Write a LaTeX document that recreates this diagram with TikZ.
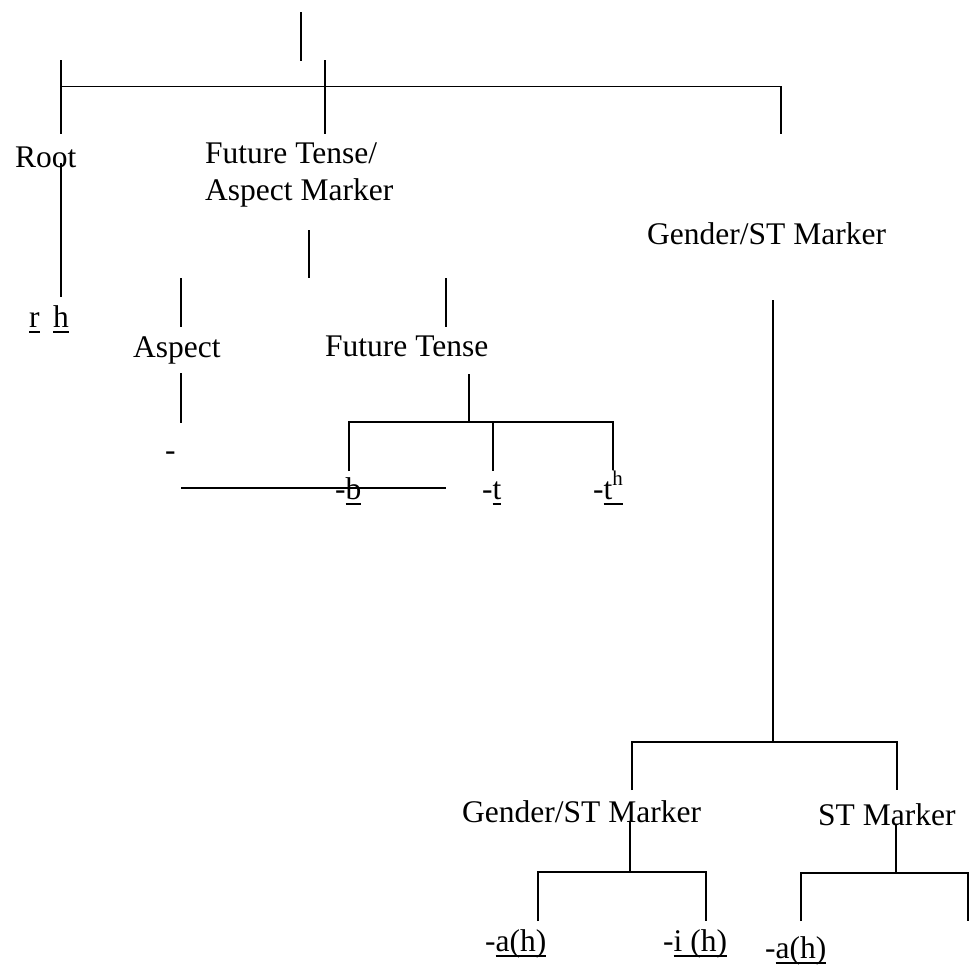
\documentclass[tikz,border=0pt]{standalone}
\usepackage{fontspec}
\setmainfont{Liberation Serif}
\newcommand\ulin[1]{\setbox0=\hbox{#1}\rlap{\rule[-0.19em]{\wd0}{0.065em}}\box0}
\begin{document}
\begin{tikzpicture}[x=1pt,y=-1pt,
  lbl/.style={anchor=base west, inner sep=0pt, font=\fontsize{31.5}{37}\selectfont},
  ln/.style={line width=1.7pt, line cap=butt}]
\useasboundingbox (0,0) rectangle (969,967);
% texts
\node[lbl] (root) at (15,167) {Root};
\node[lbl] (ft1) at (205,163) {Future Tense/};
\node[lbl] (ft2) at (205,200) {Aspect Marker};
\node[lbl] (gst) at (647,244) {Gender/ST Marker};
\node[lbl] (r) at (29,327) {\ulin{r}};
\node[lbl] (h) at (53,327) {\ulin{h}};
\node[lbl] (asp) at (133,357) {Aspect};
\node[lbl] (fut) at (325,356) {Future Tense};
\node[lbl] (dash) at (165,460) {-};
\node[lbl] (b) at (335,499) {-\ulin{b}};
\node[lbl] (t) at (482,499) {-\ulin{t}};
\node[lbl] (th) at (593,499) {-\ulin{t\raisebox{0.42em}{\fontsize{21}{21}\selectfont h}}};
\node[lbl] (gst2) at (462,822) {Gender/ST Marker};
\node[lbl] (st) at (818,825) {ST Marker};
\node[lbl] (ah1) at (485,951) {-\ulin{a(h)}};
\node[lbl] (ih) at (663,951) {-\ulin{i (h)}};
\node[lbl] (ah2) at (765,958) {-\ulin{a(h)}};
% lines
\draw[ln] (301,12) -- (301,61);
\draw[ln] (61,86.5) -- (781,86.5) -- (781,134);
\draw[ln] (61,60) -- (61,134);
\draw[ln] (325,60) -- (325,134);
\draw[ln] (61,163) -- (61,297);
\draw[ln] (309,230) -- (309,278);
\draw[ln] (181,278) -- (181,327);
\draw[ln] (446,278) -- (446,327);
\draw[ln] (181,373) -- (181,423);
\draw[ln] (181,488) -- (446,488);
\draw[ln] (469,374) -- (469,422);
\draw[ln] (349,471) -- (349,422) -- (613,422) -- (613,470);
\draw[ln] (493,422) -- (493,471);
\draw[ln] (773,300) -- (773,742);
\draw[ln] (632,790) -- (632,742) -- (897,742) -- (897,790);
\draw[ln] (630,822) -- (630,872);
\draw[ln] (538,921) -- (538,872) -- (706,872) -- (706,921);
\draw[ln] (896,825) -- (896,873);
\draw[ln] (801,921) -- (801,873) -- (968,873) -- (968,921);
\end{tikzpicture}
\end{document}
